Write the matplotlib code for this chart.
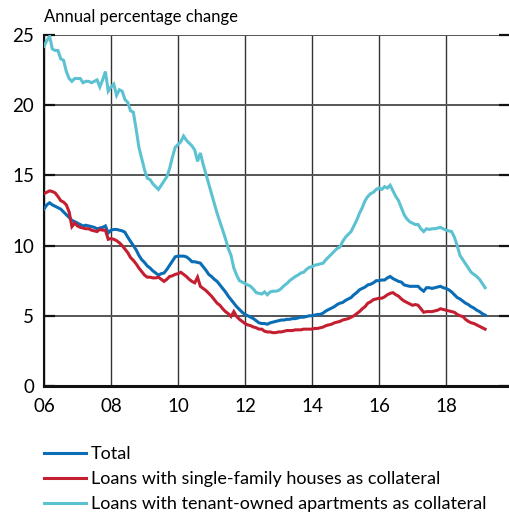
import numpy as np
import matplotlib
matplotlib.use("Agg")
import matplotlib.pyplot as plt
from matplotlib.ticker import FixedLocator

plt.rcParams['font.family'] = ['Lato', 'DejaVu Sans']

start_year = 2006
title = "Annual percentage change"
series_labels = ["Total",
                 "Loans with single-family houses as collateral",
                 "Loans with tenant-owned apartments as collateral"]
x_tick_labels = ["06", "08", "10", "12", "14", "16", "18"]
x_tick_years = [2006, 2008, 2010, 2012, 2014, 2016, 2018]
y_ticks = [0, 5, 10, 15, 20, 25]

# monthly values, Jan 2006 - Mar 2019
total = [12.6, 12.9, 13.05, 12.9, 12.8, 12.7, 12.6, 12.4, 12.2, 12.0, 11.8, 11.7,
         11.6, 11.5, 11.4, 11.45, 11.4, 11.35, 11.3, 11.2, 11.25, 11.3, 11.4, 10.9,
         11.1, 11.15, 11.15, 11.1, 11.05, 10.95, 10.6, 10.3, 10.0, 9.7, 9.3, 9.0,
         8.8, 8.55, 8.4, 8.2, 8.05, 7.9, 8.0, 8.05, 8.3, 8.6, 8.9, 9.2,
         9.25, 9.25, 9.25, 9.2, 9.05, 8.85, 8.85, 8.8, 8.75, 8.5, 8.25, 7.95,
         7.8, 7.6, 7.45, 7.2, 6.95, 6.7, 6.4, 6.15, 5.9, 5.65, 5.45, 5.25,
         5.1, 5.0, 4.9, 4.8, 4.65, 4.5, 4.45, 4.45, 4.4, 4.5, 4.55, 4.6,
         4.65, 4.7, 4.7, 4.75, 4.75, 4.8, 4.8, 4.85, 4.9, 4.9, 4.95, 5.0,
         5.0, 5.05, 5.1, 5.1, 5.2, 5.35, 5.45, 5.55, 5.65, 5.8, 5.9, 5.95,
         6.1, 6.2, 6.3, 6.5, 6.65, 6.85, 6.95, 7.05, 7.2, 7.25, 7.35, 7.5,
         7.5, 7.55, 7.55, 7.7, 7.8, 7.65, 7.55, 7.45, 7.4, 7.2, 7.15, 7.1,
         7.1, 7.1, 7.1, 6.9, 6.75, 7.0, 7.0, 6.95, 7.0, 7.05, 7.1, 7.0,
         6.95, 6.85, 6.7, 6.5, 6.3, 6.2, 6.05, 5.9, 5.8, 5.65, 5.55, 5.4,
         5.3, 5.15, 5.05]

houses = [13.7, 13.8, 13.9, 13.85, 13.75, 13.5, 13.2, 13.1, 12.9, 12.4, 11.35, 11.6,
          11.4, 11.3, 11.25, 11.2, 11.2, 11.1, 11.05, 11.0, 11.15, 11.1, 11.1, 10.45,
          10.5, 10.45, 10.35, 10.2, 10.0, 9.75, 9.5, 9.15, 8.95, 8.7, 8.4, 8.15,
          7.9, 7.75, 7.75, 7.7, 7.7, 7.75, 7.6, 7.45, 7.6, 7.8, 7.85, 7.95,
          8.0, 8.1, 7.95, 7.8, 7.6, 7.45, 7.35, 7.75, 7.1, 6.95, 6.8, 6.6,
          6.4, 6.15, 5.9, 5.75, 5.5, 5.3, 5.15, 4.95, 5.3, 4.95, 4.75, 4.6,
          4.45, 4.35, 4.3, 4.2, 4.15, 4.05, 4.05, 3.9, 3.85, 3.85, 3.8, 3.8,
          3.85, 3.85, 3.9, 3.95, 3.95, 3.95, 4.0, 4.0, 4.0, 4.05, 4.05, 4.05,
          4.05, 4.1, 4.1, 4.15, 4.2, 4.3, 4.35, 4.4, 4.5, 4.55, 4.6, 4.7,
          4.75, 4.8, 4.9, 5.0, 5.15, 5.3, 5.5, 5.65, 5.9, 6.0, 6.15, 6.2,
          6.25, 6.25, 6.35, 6.5, 6.6, 6.65, 6.5, 6.4, 6.2, 6.05, 5.95, 5.85,
          5.75, 5.8, 5.75, 5.5, 5.25, 5.3, 5.3, 5.3, 5.35, 5.4, 5.5, 5.45,
          5.4, 5.35, 5.3, 5.25, 5.1, 5.0, 4.95, 4.75, 4.6, 4.5, 4.45, 4.35,
          4.25, 4.15, 4.05]

apartments = [24.2, 24.6, 24.9, 24.0, 23.9, 23.9, 23.3, 23.2, 22.4, 21.9, 21.7, 21.9,
              21.9, 21.9, 21.6, 21.7, 21.7, 21.6, 21.7, 21.8, 21.3, 21.8, 22.4, 21.0,
              21.3, 21.5, 20.7, 21.1, 21.0, 20.4, 20.2, 19.6, 19.5, 18.3, 17.0, 16.2,
              15.4, 14.8, 14.7, 14.4, 14.2, 14.0, 14.3, 14.6, 14.9, 15.5, 16.3, 17.0,
              17.2, 17.4, 17.8, 17.5, 17.3, 17.1, 16.8, 16.0, 16.6, 15.8, 15.1, 14.4,
              13.7, 13.0, 12.3, 11.7, 11.1, 10.5, 9.8, 9.3, 8.4, 7.9, 7.5, 7.4,
              7.3, 7.2, 7.1, 6.9, 6.65, 6.6, 6.55, 6.7, 6.5, 6.7, 6.75, 6.75,
              6.8, 6.95, 7.15, 7.3, 7.5, 7.65, 7.8, 7.9, 8.05, 8.1, 8.3, 8.45,
              8.5, 8.6, 8.65, 8.7, 8.75, 9.0, 9.2, 9.4, 9.6, 9.8, 9.9, 10.3,
              10.6, 10.8, 11.0, 11.4, 11.8, 12.3, 12.7, 13.2, 13.5, 13.7, 13.8, 14.0,
              14.1, 14.0, 14.2, 14.1, 14.3, 13.9, 13.5, 13.2, 12.7, 12.2, 11.9, 11.7,
              11.6, 11.5, 11.5, 11.2, 11.0, 11.2, 11.15, 11.2, 11.2, 11.25, 11.3, 11.2,
              11.1, 11.05, 11.0, 10.6, 10.0, 9.3, 9.0, 8.7, 8.4, 8.1, 7.95, 7.8,
              7.6, 7.3, 7.0]

colors = ['#0a6db5', '#c41f31', '#5cc2d2']

x = start_year + np.arange(len(total)) / 12.0

fig = plt.figure(figsize=(5.10, 5.15), dpi=100)
ax = fig.add_axes([44/510, 1-386/515, 1-44/510, (386-35)/515])

for vals, col, lab in zip([total, houses, apartments], colors, series_labels):
    ax.plot(x, vals, color=col, lw=2.2, label=lab, solid_joinstyle='miter', zorder=3)

ax.set_xlim(2006, 2019.91)
ax.set_ylim(0, 25)
ax.xaxis.set_major_locator(FixedLocator(x_tick_years))
ax.set_xticklabels(x_tick_labels)
ax.yaxis.set_major_locator(FixedLocator(y_ticks))

ax.grid(axis='y', color='#555555', lw=1.4, zorder=1)
ax.grid(axis='x', color='#333333', lw=1.0, zorder=1)

for s in ['top', 'right']:
    ax.spines[s].set_visible(False)
ax.spines['left'].set_linewidth(1.5)
ax.spines['bottom'].set_linewidth(2.2)
ax.spines['left'].set_color('#111111')
ax.spines['bottom'].set_color('#111111')

ax.tick_params(axis='y', direction='in', length=8, width=1.6, color='#111111',
               labelsize=13.5, pad=7, right=True, labelright=False)
ax.tick_params(axis='x', length=0, labelsize=13.5, pad=9)

fig.text(44/510, 1-22/515, title, fontsize=12, ha='left', va='baseline')

leg = fig.legend(loc='upper left', bbox_to_anchor=(44/510, 1-446/515), frameon=False,
                 fontsize=13.0, handlelength=2.3, handletextpad=0.3, labelspacing=0.5,
                 borderaxespad=0, borderpad=0)

fig.savefig('out.png', dpi=100)
